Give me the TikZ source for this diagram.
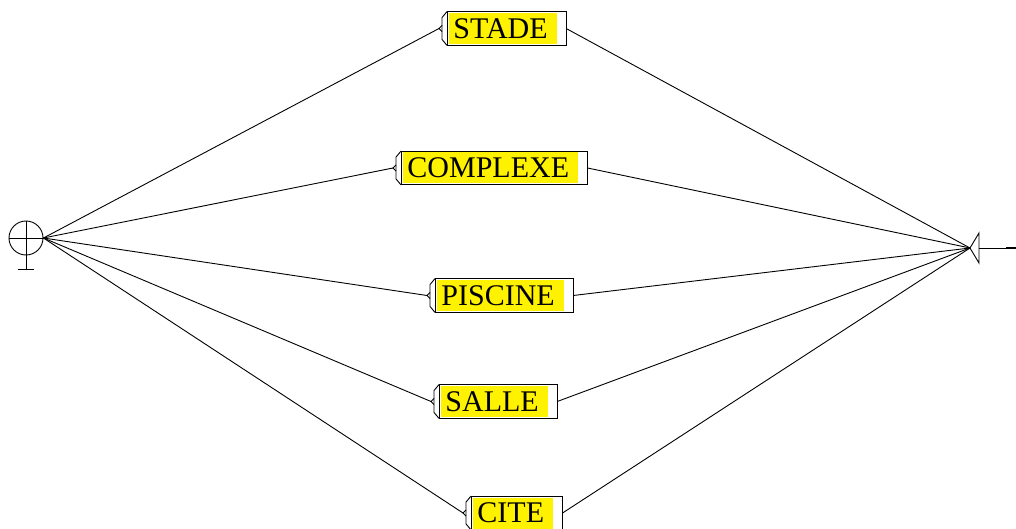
\documentclass[tikz,border=0pt]{standalone}
\usepackage{fontspec}
\setmainfont{Liberation Serif}
\usetikzlibrary{positioning}

\begin{document}
\begin{tikzpicture}
    [
        x=1pt, y=-1pt, line width=0.9pt,
        word/.style = {fill=yellow, anchor=west, inner xsep=4pt, inner ysep=0pt, minimum height=31pt, execute at end node=\hspace{5pt}, font=\fontsize{30}{30}\selectfont},
        initial/.style = {draw, shape=circle, minimum size=34pt, inner sep=0pt},
    ]
    \useasboundingbox (0,0) rectangle (1016,529);

    % initial and final states
    \node[initial] (st) at (26,238) {};
    \draw (st.west) -- (st.east);
    \draw (st.north) -- ++(0,49) coordinate (stb);
    \draw ([xshift=-8pt]stb) -- ([xshift=8pt]stb);
    \coordinate (fin) at (970,248);
    \draw (fin) -- ++(9,-15) coordinate (fint) -- ++(0,30) -- cycle;
    \draw ([yshift=-15pt]fint) -- ++(27,0) coordinate (finl);
    \draw[line width=1.6pt] (finl) -- ++(10,0);

    % the words
    \node[word] (0w) at (449,28.5)  {STADE};
    \node[word] (1w) at (403,168)   {COMPLEXE};
    \node[word] (2w) at (437,295.5) {PISCINE};
    \node[word] (3w) at (441,401.5) {SALLE};
    \node[word] (4w) at (473,513)   {CITE};

    \foreach \w in {0w,1w,2w,3w,4w}{
        \draw ([xshift=-2pt,yshift=1pt]\w.north west) rectangle ([xshift=9pt,yshift=-1pt]\w.south east);
        \draw ([xshift=-2pt,yshift=1pt]\w.north west) -- ([xshift=-7pt,yshift=-5pt]\w.north west)
              -- ([xshift=-7pt,yshift=5pt]\w.south west) -- ([xshift=-2pt,yshift=-1pt]\w.south west);
        \draw ([xshift=-7pt,yshift=3pt]\w.west) -- ([xshift=-10pt]\w.west) coordinate (\w-in)
              -- ([xshift=-7pt,yshift=-3pt]\w.west);
        \coordinate (\w-out) at ([xshift=9pt]\w.east);
        \draw (st.east) -- (\w-in);
        \draw (\w-out) -- (fin);
    }
\end{tikzpicture}
\end{document}
